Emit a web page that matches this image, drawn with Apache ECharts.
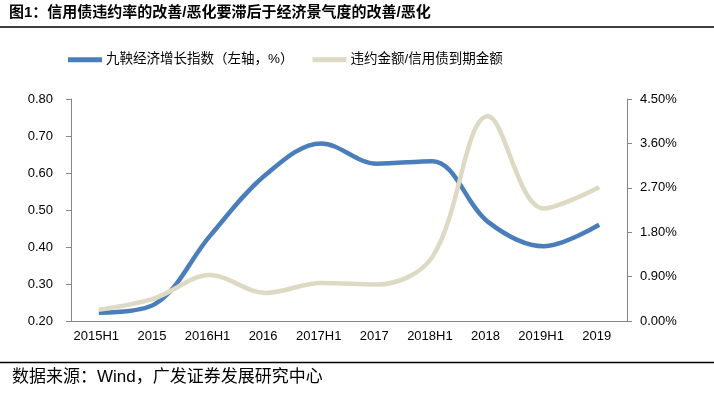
<!DOCTYPE html>
<html>
<head>
<meta charset="utf-8">
<script src="https://cdn.jsdelivr.net/npm/echarts@6/dist/echarts.min.js"></script>
<style>
  html, body { margin: 0; padding: 0; background: #fff; }
  #main { width: 714px; height: 397px; }
</style>
</head>
<body>
<div id="main"></div>
<script>
// 横轴：半年度
var categories = ['2015H1', '2015', '2016H1', '2016', '2017H1', '2017', '2018H1', '2018', '2019H1', '2019'];
// 九鞅经济增长指数（左轴）
var growthIndex = [0.222, 0.245, 0.43, 0.595, 0.68, 0.625, 0.632, 0.468, 0.402, 0.46];
// 违约金额/信用债到期金额（右轴，%）
var defaultRatio = [0.23, 0.46, 0.93, 0.57, 0.77, 0.74, 1.3, 4.15, 2.28, 2.71];

var FONT = '"Liberation Sans", "Noto Sans CJK SC", sans-serif';
var axisColor = '#868686';

var chart = echarts.init(document.getElementById('main'));
chart.setOption({
  animation: false,
  backgroundColor: '#fff',
  graphic: [
    {
      type: 'text', left: 9, top: 5,
      style: { text: '图1：信用债违约率的改善/恶化要滞后于经济景气度的改善/恶化', font: 'bold 15px ' + FONT, fill: '#000' }
    },
    { type: 'line', shape: { x1: 0, y1: 27, x2: 714, y2: 27 }, style: { stroke: '#000', lineWidth: 1.5 } },
    { type: 'line', shape: { x1: 0, y1: 362.5, x2: 714, y2: 362.5 }, style: { stroke: '#000', lineWidth: 1.5 } },
    {
      type: 'text', left: 12, top: 369,
      style: { text: '数据来源：Wind，广发证券发展研究中心', font: '17px ' + FONT, fill: '#000' }
    }
  ],
  legend: {
    left: 63, top: 48,
    icon: 'rect', itemWidth: 34, itemHeight: 5, itemGap: 19,
    textStyle: { fontSize: 13.5, fontFamily: FONT, color: '#000', padding: [0, 0, 0, -1] },
    data: ['九鞅经济增长指数（左轴，%）', '违约金额/信用债到期金额']
  },
  grid: { left: 71, right: 87, top: 99, bottom: 76 },
  xAxis: {
    type: 'category',
    data: categories,
    boundaryGap: true,
    axisLine: { lineStyle: { color: axisColor } },
    axisTick: { lineStyle: { color: axisColor }, length: 5 },
    axisLabel: { color: '#000', fontSize: 13, fontFamily: FONT, margin: 9, interval: 0, padding: [0, 5, 0, 0] }
  },
  yAxis: [
    {
      type: 'value', min: 0.2, max: 0.8, interval: 0.1,
      axisLine: { show: true, lineStyle: { color: axisColor } },
      axisTick: { show: true, lineStyle: { color: axisColor }, length: 5 },
      splitLine: { show: false },
      axisLabel: {
        color: '#000', fontSize: 13, fontFamily: FONT, margin: 18,
        formatter: function (v) { return v.toFixed(2); }
      }
    },
    {
      type: 'value', min: 0, max: 4.5, interval: 0.9,
      axisLine: { show: true, lineStyle: { color: axisColor } },
      axisTick: { show: true, lineStyle: { color: axisColor }, length: 5 },
      splitLine: { show: false },
      axisLabel: {
        color: '#000', fontSize: 13, fontFamily: FONT, margin: 13,
        formatter: function (v) { return v.toFixed(2) + '%'; }
      }
    }
  ],
  series: [
    {
      name: '九鞅经济增长指数（左轴，%）',
      type: 'line', yAxisIndex: 0, data: growthIndex,
      smooth: 0.35, showSymbol: false, symbol: 'none',
      itemStyle: { color: '#4a7ebb' },
      lineStyle: { color: '#4a7ebb', width: 4.5 }
    },
    {
      name: '违约金额/信用债到期金额',
      type: 'line', yAxisIndex: 1, data: defaultRatio,
      smooth: 0.35, showSymbol: false, symbol: 'none',
      itemStyle: { color: '#ddd9c3' },
      lineStyle: { color: '#ddd9c3', width: 4.5 }
    }
  ]
});
</script>
</body>
</html>
